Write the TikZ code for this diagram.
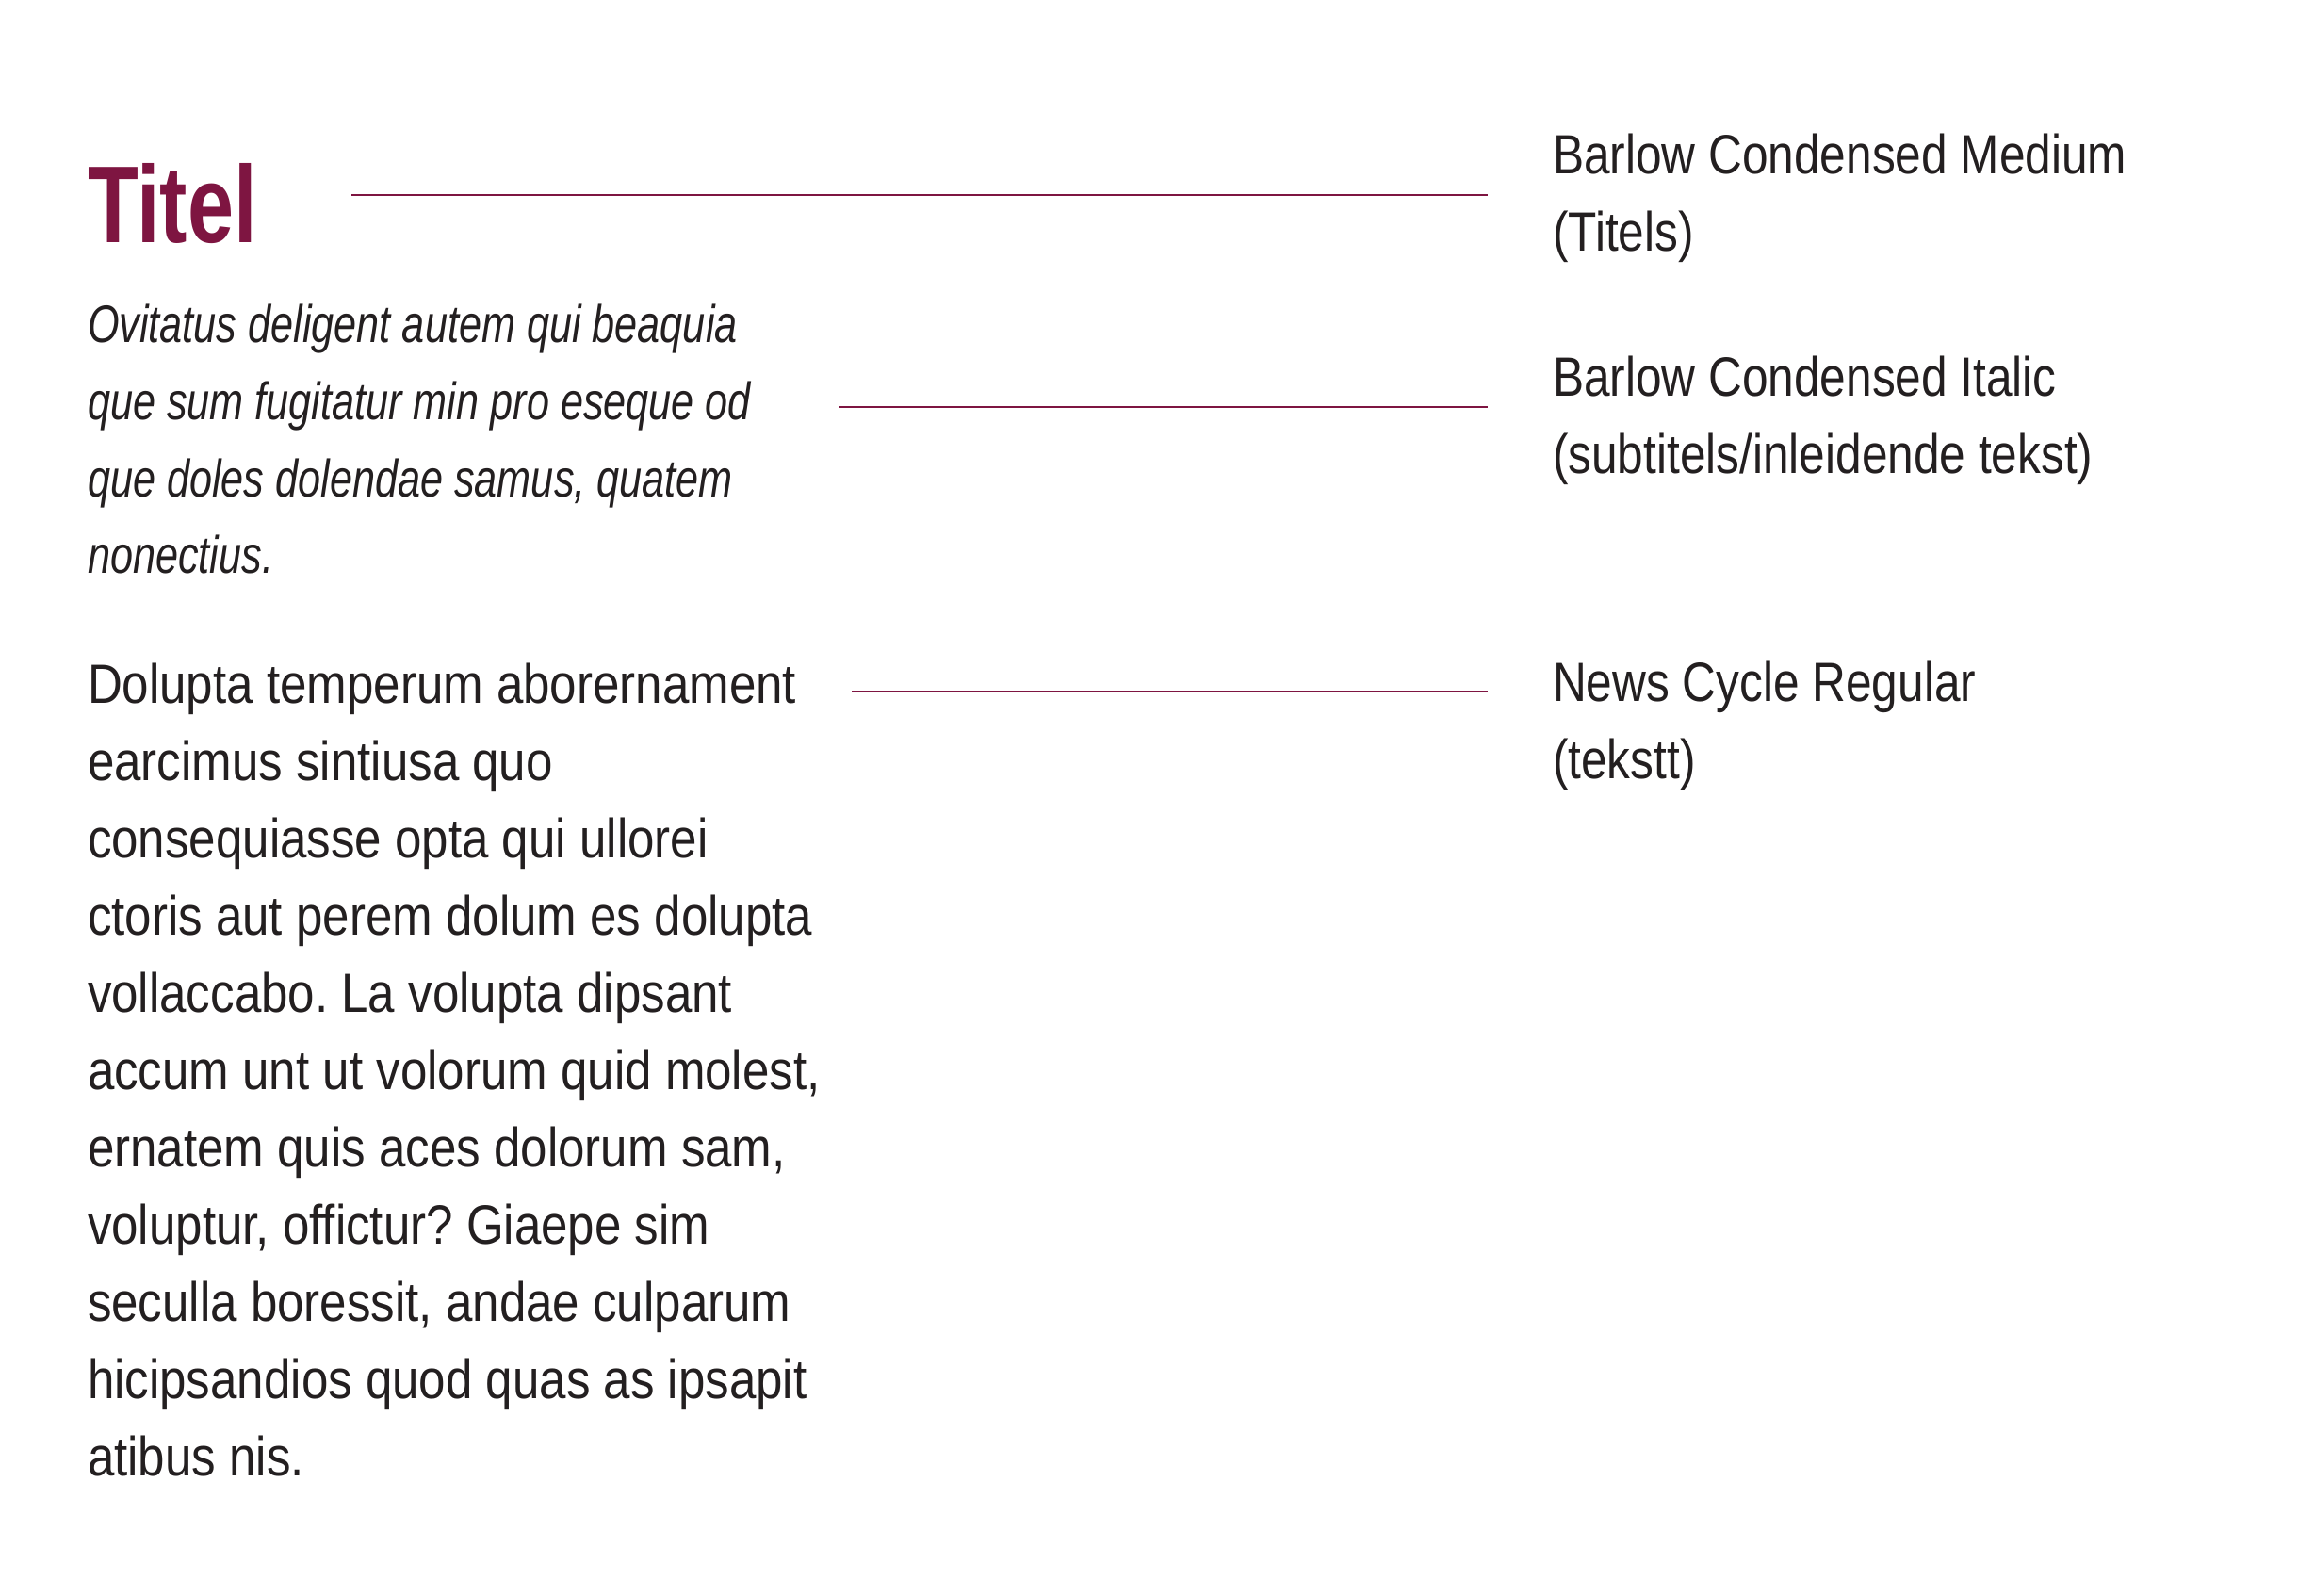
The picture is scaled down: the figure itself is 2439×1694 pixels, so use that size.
\documentclass[tikz,border=0pt]{standalone}
\usepackage{fontspec}
\setmainfont{Liberation Sans}
\newfontfamily\newsfont{Liberation Sans}[FakeStretch=0.87]
\newfontfamily\labelfont{Liberation Sans}[FakeStretch=0.845]
\newfontfamily\titlefont{Liberation Sans}[FakeStretch=0.76]
\newfontfamily\subfont{Liberation Sans}[FakeStretch=0.772]
\definecolor{wine}{HTML}{7E1541}
\definecolor{ink}{HTML}{231F20}
\frenchspacing
\begin{document}
\begin{tikzpicture}[x=1pt,y=-1pt,
  txt/.style={anchor=base west,inner sep=0pt,outer sep=0pt,text=ink},
  bodytxt/.style={txt,font=\newsfont\frenchspacing\fontsize{58.7}{82}\selectfont},
  labeltxt/.style={txt,font=\labelfont\frenchspacing\fontsize{58.7}{82}\selectfont},
  subtxt/.style={txt,font=\subfont\itshape\frenchspacing\fontsize{56}{82}\selectfont},
  titletxt/.style={txt,text=wine,font=\titlefont\bfseries\fontsize{116}{130}\selectfont},
  leader/.style={draw=wine,line width=1.5pt}]
\useasboundingbox (0,0) rectangle (2439,1694);
% title
\node[titletxt] (title) at (93,257) {Titel};
% subtitle block
\node[subtxt] (s1) at (93,363) {Ovitatus deligent autem qui beaquia};
\node[subtxt] (s2) at (93,445) {que sum fugitatur min pro eseque od};
\node[subtxt] (s3) at (93,527) {que doles dolendae samus, quatem};
\node[subtxt] (s4) at (93,608) {nonectius.};
% body block
\node[bodytxt] (b1) at (93,746) {Dolupta temperum aborernament};
\node[bodytxt] (b2) at (93,828) {earcimus sintiusa quo};
\node[bodytxt] (b3) at (93,910) {consequiasse opta qui ullorei};
\node[bodytxt] (b4) at (93,992) {ctoris aut perem dolum es dolupta};
\node[bodytxt] (b5) at (93,1074) {vollaccabo. La volupta dipsant};
\node[bodytxt] (b6) at (93,1156) {accum unt ut volorum quid molest,};
\node[bodytxt] (b7) at (93,1238) {ernatem quis aces dolorum sam,};
\node[bodytxt] (b8) at (93,1320) {voluptur, offictur? Giaepe sim};
\node[bodytxt] (b9) at (93,1402) {seculla boressit, andae culparum};
\node[bodytxt] (b10) at (93,1484) {hicipsandios quod quas as ipsapit};
\node[bodytxt] (b11) at (93,1566) {atibus nis.};
% labels
\node[labeltxt] (l1a) at (1648,184) {Barlow Condensed Medium};
\node[labeltxt] (l1b) at (1648,266) {(Titels)};
\node[labeltxt] (l2a) at (1648,420) {Barlow Condensed Italic};
\node[labeltxt] (l2b) at (1648,502) {(subtitels/inleidende tekst)};
\node[labeltxt] (l3a) at (1648,744) {News Cycle Regular};
\node[labeltxt] (l3b) at (1648,826) {(tekstt)};
% leader lines
\coordinate (c1s) at (373,207);
\coordinate (c1e) at (1579,207);
\coordinate (c2s) at (890,432);
\coordinate (c2e) at (1579,432);
\coordinate (c3s) at (904,734);
\coordinate (c3e) at (1579,734);
\draw[leader] (c1s) -- (c1e);
\draw[leader] (c2s) -- (c2e);
\draw[leader] (c3s) -- (c3e);
\end{tikzpicture}
\end{document}
